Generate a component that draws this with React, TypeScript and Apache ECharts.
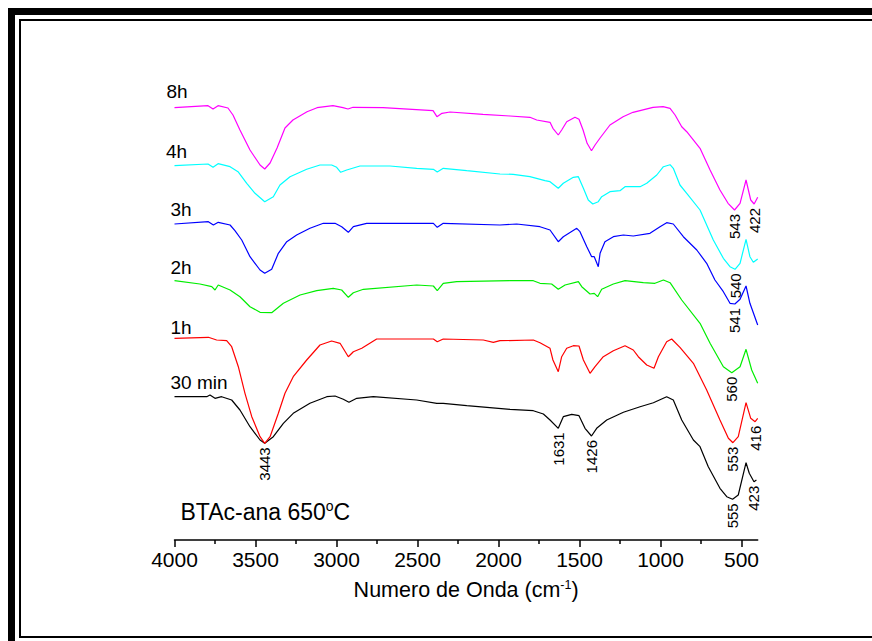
import React, { useEffect, useRef } from 'react';
import * as echarts from 'echarts';

const FONT = '"Liberation Sans", Arial, Helvetica, sans-serif';

// FTIR spectra: [wavenumber (cm-1), transmittance (a.u., stacked)]
const spec30min: [number, number][] = [
  [4000, 143.3], [3801, 143.3], [3781, 145], [3750, 141.7], [3709, 143.3], [3647, 140], [3596, 130],
  [3534, 113.3], [3472, 100], [3443, 96.7], [3390, 103.3], [3328, 116.7], [3267, 126.7], [3164, 136.7],
  [3060, 143.3], [3009, 144], [2958, 140.7], [2923, 137.7], [2875, 141.7], [2773, 143.3], [2505, 140],
  [2381, 136.7], [2341, 136.7], [2196, 134.3], [1929, 130.7], [1785, 129.3], [1723, 126], [1682, 120],
  [1631, 111.7], [1600, 123.3], [1548, 125.7], [1503, 124.3], [1466, 111.7], [1426, 104], [1394, 111.7],
  [1332, 120], [1229, 127.7], [1126, 133.3], [1044, 137.3], [962, 143.3], [921, 140], [869, 120],
  [797, 100], [756, 93.3], [705, 73.3], [633, 51.7], [591, 43.3], [555, 40.7], [520, 45], [472, 77.3],
  [452, 66.7], [423, 58.3], [408, 60],
];
const spec1h: [number, number][] = [
  [4000, 201.7], [3791, 202.7], [3740, 200], [3678, 199.3], [3647, 193.3], [3606, 173.3], [3565, 146.7],
  [3523, 123.3], [3472, 103.3], [3443, 96.7], [3410, 103.3], [3359, 126.7], [3318, 146.7], [3267, 163.3],
  [3184, 180], [3102, 195], [3030, 199], [2978, 196.7], [2927, 183.3], [2896, 188.3], [2844, 191.7],
  [2752, 201], [2402, 201], [2378, 198.3], [2341, 201], [2094, 200], [2032, 197.7], [1991, 199.3],
  [1785, 200], [1744, 197.3], [1682, 191.7], [1664, 180], [1631, 168.3], [1610, 183.3], [1579, 191.7],
  [1538, 194.3], [1503, 194], [1476, 180], [1435, 166.7], [1404, 173.3], [1353, 183.3], [1291, 189.3],
  [1219, 194.3], [1168, 190], [1137, 183.3], [1085, 175], [1040, 171.7], [1013, 183.3], [962, 198.3],
  [931, 201], [880, 192.7], [797, 176.7], [715, 150], [633, 120], [581, 101.7], [553, 97.3], [520, 103.3],
  [472, 137.3], [443, 121.7], [416, 118.3], [400, 121.7],
];
const spec2h: [number, number][] = [
  [4000, 259.3], [3843, 256], [3770, 253.3], [3750, 250], [3730, 255], [3657, 250], [3596, 243.3],
  [3534, 233.3], [3472, 227.7], [3400, 227.3], [3328, 236.7], [3225, 245], [3122, 249.3], [3020, 251.7],
  [2968, 250], [2927, 242.7], [2896, 247.3], [2834, 250.7], [2505, 255], [2402, 254], [2378, 249.3],
  [2341, 256.7], [2258, 258.3], [1929, 259.3], [1785, 259.3], [1744, 256.7], [1672, 256], [1631, 250.7],
  [1589, 255], [1507, 258.3], [1486, 253.3], [1435, 246], [1409, 246.7], [1388, 243.3], [1363, 250.7],
  [1291, 256], [1219, 259.3], [1106, 257.3], [1034, 256.7], [982, 260], [941, 257.3], [869, 240],
  [756, 216.7], [694, 196.7], [612, 173.3], [560, 167.3], [509, 173.3], [472, 190.7], [437, 170], [400, 156.7],
];
const spec3h: [number, number][] = [
  [4000, 316], [3791, 318.3], [3760, 315], [3730, 317.7], [3657, 315], [3627, 309.3], [3585, 300],
  [3534, 283.3], [3472, 270], [3443, 266.7], [3400, 270.7], [3359, 286.7], [3307, 298.3], [3246, 305],
  [3164, 311.7], [3081, 316.7], [3009, 316.7], [2968, 313.3], [2927, 307.7], [2896, 313.3], [2814, 316.7],
  [2402, 316.7], [2378, 312.7], [2341, 316.7], [1991, 315], [1888, 316], [1744, 313.3], [1682, 310],
  [1631, 298.3], [1600, 303.3], [1517, 311.7], [1497, 308.3], [1455, 293.3], [1425, 283.3], [1409, 283.3],
  [1384, 273.3], [1373, 286.7], [1343, 298.3], [1291, 303.3], [1229, 305], [1168, 304], [1065, 306.7],
  [1003, 313.3], [962, 317.3], [921, 316], [859, 303.3], [776, 290], [715, 276.7], [664, 260],
  [612, 248.3], [571, 236.7], [541, 236], [509, 240.7], [472, 254], [448, 236.7], [400, 215],
];
const spec4h: [number, number][] = [
  [4000, 374.3], [3793, 376], [3762, 372.7], [3731, 376.3], [3657, 373.3], [3608, 368.3], [3554, 356.7],
  [3503, 346.7], [3443, 338.3], [3390, 343.3], [3349, 355], [3287, 363.3], [3184, 370.7], [3102, 375],
  [3030, 375], [2999, 372.7], [2974, 367.7], [2937, 370], [2855, 374], [2670, 374], [2505, 371.7],
  [2402, 370.7], [2378, 368], [2341, 371.7], [2196, 369.3], [1991, 366], [1909, 365.7], [1806, 363.3],
  [1713, 359.3], [1682, 358.3], [1631, 351.7], [1600, 356.7], [1538, 362.7], [1507, 363.3], [1476, 351.7],
  [1446, 340], [1418, 336], [1384, 338.3], [1363, 343.3], [1312, 348.3], [1250, 349.3], [1219, 353.3],
  [1126, 353.3], [1085, 356.7], [1023, 365], [982, 373.3], [941, 375.3], [921, 371.7], [880, 355],
  [838, 346.7], [756, 330], [674, 300], [612, 281.7], [571, 273.3], [540, 270.7], [509, 276.7],
  [472, 300.7], [448, 283.3], [427, 277.7], [400, 281],
];
const spec8h: [number, number][] = [
  [4000, 432.3], [3793, 434.3], [3762, 431], [3731, 434.3], [3670, 432], [3639, 425], [3596, 410],
  [3534, 390], [3472, 375], [3443, 371], [3410, 377], [3367, 392], [3318, 412], [3269, 420], [3182, 428.3],
  [3120, 432.3], [3022, 434.3], [2960, 432.3], [2929, 431], [2898, 432.7], [2713, 432.3], [2404, 429.3],
  [2380, 423.3], [2349, 426.7], [2299, 428], [2096, 425.7], [1929, 424], [1806, 422.7], [1764, 420],
  [1682, 417.7], [1664, 411.7], [1631, 405], [1610, 410], [1579, 418.3], [1528, 422.7], [1503, 420.7],
  [1478, 410], [1453, 396.7], [1426, 389.3], [1404, 395], [1373, 402], [1312, 415], [1231, 423.3],
  [1170, 427.7], [1046, 432.7], [984, 433.3], [941, 431.7], [910, 425], [869, 413.3], [838, 408.3],
  [756, 391.7], [694, 370], [633, 350], [583, 336.7], [543, 330], [509, 336.7], [472, 360], [443, 340],
  [422, 336], [400, 342.7],
];

const seriesNames = ['30 min', '1h', '2h', '3h', '4h', '8h'];
const seriesColors = ['#000000', '#ff0000', '#00ee00', '#0000ff', '#00ffff', '#ff00ff'];

// band positions marked on each spectrum
const peaks30min = [3443, 1631, 1426, 555, 423];
const peaks1h = [553, 416];
const peaks2h = [560];
const peaks3h = [541];
const peaks4h = [540];
const peaks8h = [543, 422];

const majorTicks = [4000, 3500, 3000, 2500, 2000, 1500, 1000, 500];
const minorTicks = [3750, 3250, 2750, 2250, 1750, 1250, 750];

// name tags drawn left of each trace
const nameTags = [
  { text: '8h', x: 166.5, y: 91 },
  { text: '4h', x: 166, y: 151 },
  { text: '3h', x: 170.5, y: 209.5 },
  { text: '2h', x: 170.5, y: 267 },
  { text: '1h', x: 170.5, y: 327.5 },
  { text: '30 min', x: 170.5, y: 382.5 },
];

export default function App() {
  const ref = useRef<HTMLDivElement>(null);

  useEffect(() => {
    if (!ref.current) return;
    const chart = echarts.init(ref.current, null, { renderer: 'svg' });
    const spectra = [spec30min, spec1h, spec2h, spec3h, spec4h, spec8h];
    const peaks = [peaks30min, peaks1h, peaks2h, peaks3h, peaks4h, peaks8h];

    const valueAt = (data: [number, number][], wn: number) => {
      const hit = data.find((d) => d[0] === wn);
      return hit ? hit[1] : 0;
    };

    const series = spectra.map((data, i) => ({
      type: 'line',
      name: seriesNames[i],
      data,
      symbol: 'none',
      showSymbol: false,
      silent: true,
      z: 2 + i,
      lineStyle: { color: seriesColors[i], width: 1.2 },
      itemStyle: { color: seriesColors[i] },
      markPoint: {
        symbol: 'circle',
        symbolSize: 2,
        silent: true,
        itemStyle: { color: 'rgba(0,0,0,0)' },
        label: {
          show: true,
          formatter: '{c}',
          position: 'bottom',
          distance: 3,
          rotate: 90,
          align: 'right',
          verticalAlign: 'middle',
          fontSize: 15,
          fontFamily: FONT,
          color: '#000',
        },
        data: peaks[i].map((p) => ({ coord: [p, valueAt(data, p)], value: p })),
      },
    }));

    const graphic: any[] = [
      { type: 'rect', shape: { x: 8, y: 8, width: 7, height: 633 }, style: { fill: '#000' }, silent: true },
      { type: 'rect', shape: { x: 8, y: 8, width: 864, height: 7 }, style: { fill: '#000' }, silent: true },
      {
        type: 'polyline',
        shape: { points: [[872, 20], [20, 20], [20, 637], [872, 637]] },
        style: { stroke: '#000', lineWidth: 2, fill: 'none' },
        silent: true,
      },
      ...nameTags.map((t) => ({
        type: 'text',
        x: t.x,
        y: t.y,
        silent: true,
        style: {
          text: t.text,
          fill: '#000',
          font: `19px ${FONT}`,
          textAlign: 'left',
          textVerticalAlign: 'middle',
        },
      })),
      {
        type: 'text',
        x: 180.5,
        y: 511.5,
        silent: true,
        style: {
          text: 'BTAc-ana 650{sup|o}C',
          fill: '#000',
          font: `23px ${FONT}`,
          textAlign: 'left',
          textVerticalAlign: 'middle',
          rich: {
            sup: { fontSize: 14, fontFamily: FONT, fill: '#000', verticalAlign: 'top', lineHeight: 26 },
          },
        },
      },
    ];

    chart.setOption({
      animation: false,
      backgroundColor: '#ffffff',
      grid: { left: 174.5, right: 114.3, top: 60, bottom: 101, containLabel: false, outerBoundsMode: 'none' },
      xAxis: [
        {
          type: 'value',
          inverse: true,
          min: 400,
          max: 4000,
          position: 'bottom',
          axisLine: { show: true, onZero: false, lineStyle: { color: '#000', width: 1.5 } },
          axisTick: { show: true, inside: false, length: 7, customValues: majorTicks, lineStyle: { color: '#000', width: 1.5 } },
          axisLabel: {
            show: true,
            customValues: majorTicks,
            formatter: (v: number) => String(v),
            margin: 9,
            fontSize: 21,
            fontFamily: FONT,
            color: '#000',
          },
          splitLine: { show: false },
          name: 'Numero de Onda (cm{sup|-1})',
          nameLocation: 'middle',
          nameGap: 38.5,
          nameTextStyle: {
            fontSize: 21.5,
            fontFamily: FONT,
            color: '#000',
            rich: { sup: { fontSize: 12.5, fontFamily: FONT, color: '#000', verticalAlign: 'top' } },
          },
        },
        {
          type: 'value',
          inverse: true,
          min: 400,
          max: 4000,
          position: 'bottom',
          axisLine: { show: false, onZero: false },
          axisTick: { show: true, inside: false, length: 4, customValues: minorTicks, lineStyle: { color: '#000', width: 1.5 } },
          axisLabel: { show: false },
          splitLine: { show: false },
        },
      ],
      yAxis: { type: 'value', min: 0, max: 480, show: false },
      graphic,
      series,
    });

    return () => chart.dispose();
  }, []);

  return (
    <div
      ref={ref}
      style={{ position: 'absolute', left: 0, top: 0, width: 872, height: 641, background: '#fff' }}
    />
  );
}
